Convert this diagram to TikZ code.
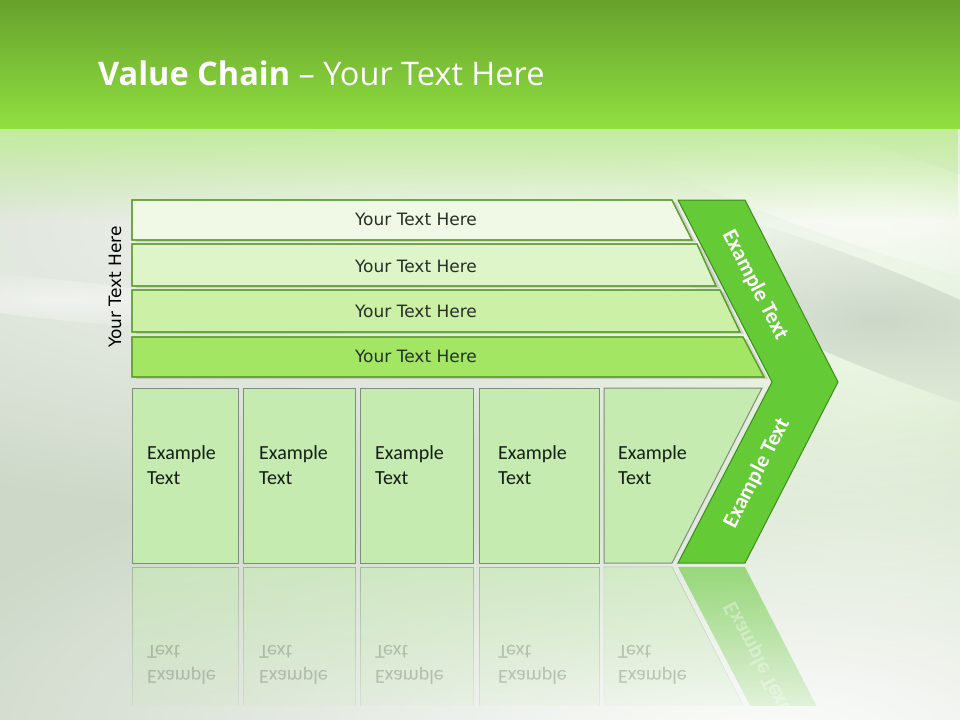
\documentclass[tikz,border=0pt]{standalone}
\usepackage{fontspec}
\setmainfont{Carlito}
\newfontfamily\titlefont{Open Sans}
\newfontfamily\barfont{DejaVu Sans}
\usetikzlibrary{fadings,shadows}
\definecolor{topA}{HTML}{67A12C}
\definecolor{topB}{HTML}{7DC236}
\definecolor{topC}{HTML}{8FE040}
\definecolor{pale}{HTML}{C2EC9C}
\definecolor{bgbase}{HTML}{CDD8C8}
\definecolor{bglight}{HTML}{E4F6D6}
\definecolor{bgstreak}{HTML}{B8C2B6}
\definecolor{barline}{HTML}{5E9E2E}
\definecolor{barA}{HTML}{EFF9E6}
\definecolor{barB}{HTML}{DDF5C9}
\definecolor{barC}{HTML}{CCF0A5}
\definecolor{barD}{HTML}{A3E664}
\definecolor{cellfill}{HTML}{C5EBB1}
\definecolor{cellline}{HTML}{7F8C7E}
\definecolor{chevfill}{HTML}{64CA36}
\definecolor{chevline}{HTML}{3F8C1E}
\definecolor{barink}{HTML}{263026}
\definecolor{cellink}{HTML}{141E14}
\tikzfading[name=glow, inner color=transparent!0, outer color=transparent!100]
\tikzset{
  bar/.style={draw=barline, line width=1.2pt,
    drop shadow={opacity=0.25, shadow xshift=4pt, shadow yshift=-2pt}},
  bartext/.style={font=\barfont\fontsize{17}{20}\selectfont, text=barink, inner sep=0pt},
  cell/.style={draw=cellline, fill=cellfill, line width=1pt},
  celltext/.style={font=\fontsize{20}{25.5}\selectfont, align=left, text=cellink,
    anchor=north west, inner sep=0pt},
  chev/.style={draw=chevline, fill=chevfill, line width=1pt},
  chevtext/.style={font=\bfseries\fontsize{22}{26}\selectfont, text=white, inner sep=0pt},
  mirror/.style={fill=cellfill, draw=cellline, fill opacity=0.55, draw opacity=0.5, path fading=south},
  mirrortext/.style={celltext, opacity=0.22, yscale=-1}
}
\begin{document}
\begin{tikzpicture}[x=1pt,y=-1pt]
\useasboundingbox (0,0) rectangle (960,720);
\fill[bgbase] (0,0) rectangle (960,720);
\fill[bglight, opacity=0.9, path fading=glow] (880,330) ellipse [x radius=420, y radius=420];
\fill[white, opacity=0.8, path fading=glow] (480,230) ellipse [x radius=1000, y radius=300];
\fill[bgstreak, opacity=0.6, path fading=glow, rotate around={-22:(880,320)}] (880,320) ellipse [x radius=300, y radius=50];
\fill[white, opacity=0.7, path fading=glow, rotate around={-18:(880,200)}] (880,200) ellipse [x radius=320, y radius=50];
\fill[white, opacity=0.5, path fading=glow, rotate around={-6:(60,300)}] (60,300) ellipse [x radius=240, y radius=20];
\fill[white, opacity=0.95, path fading=glow] (760,740) ellipse [x radius=900, y radius=320];
\fill[pale, path fading=south] (0,126) rectangle (960,220);
\shade[top color=topA, middle color=topB, bottom color=topC] (0,0) rectangle (960,128);
\node[anchor=base west, inner sep=0pt, text=white, font=\titlefont\fontsize{32.5}{39}\selectfont]
  (title) at (98,85) {\textbf{Value Chain} – Your Text Here};

\node[bartext, text=black, rotate=90] (side) at (115,287) {Your Text Here};

\fill[bar, fill=barA] (132,200) -- (672,200) -- (692,240) -- (132,240) -- cycle;
\fill[bar, fill=barB] (132,244) -- (697,244) -- (716,286) -- (132,286) -- cycle;
\fill[bar, fill=barC] (132,290) -- (720,290) -- (740,332) -- (132,332) -- cycle;
\fill[bar, fill=barD] (132,337) -- (743,337) -- (764,377) -- (132,377) -- cycle;
\draw[barline, line width=1.2pt] (132,200) -- (672,200) -- (692,240) -- (132,240) -- cycle;
\draw[barline, line width=1.2pt] (132,244) -- (697,244) -- (716,286) -- (132,286) -- cycle;
\draw[barline, line width=1.2pt] (132,290) -- (720,290) -- (740,332) -- (132,332) -- cycle;
\draw[barline, line width=1.2pt] (132,337) -- (743,337) -- (764,377) -- (132,377) -- cycle;
\node[bartext] (row1) at (416,219) {Your Text Here};
\node[bartext] (row2) at (416,266) {Your Text Here};
\node[bartext] (row3) at (416,311) {Your Text Here};
\node[bartext] (row4) at (416,356) {Your Text Here};

\draw[cell] (132,388) rectangle (238,563);
\draw[cell] (243,388) rectangle (355,563);
\draw[cell] (360,388) rectangle (473,563);
\draw[cell] (479,388) rectangle (599,563);
\draw[cell] (604,388) -- (762,388) -- (672,563) -- (604,563) -- cycle;
\node[celltext] (act1) at (147,445) {Example\\Text};
\node[celltext] (act2) at (259,445) {Example\\Text};
\node[celltext] (act3) at (375,445) {Example\\Text};
\node[celltext] (act4) at (498,445) {Example\\Text};
\node[celltext] (act5) at (618,445) {Example\\Text};

\draw[chev] (678,200) -- (745,200) -- (838,382) -- (745,563) -- (678,563) -- (772,382) -- cycle;
\node[chevtext, rotate=-62.7] (margin1) at (755,285) {Example Text};
\node[chevtext, rotate=62.7] (margin2) at (757,473) {Example Text};

\begin{scope}
\clip (0,565) rectangle (960,705);
\draw[mirror] (132,567) rectangle (238,742);
\draw[mirror] (243,567) rectangle (355,742);
\draw[mirror] (360,567) rectangle (473,742);
\draw[mirror] (479,567) rectangle (599,742);
\draw[mirror] (604,567) -- (672,567) -- (762,742) -- (604,742) -- cycle;
\fill[chevfill, fill opacity=0.6, path fading=south] (678,567) -- (745,567) -- (838,748) -- (772,748) -- cycle;
\node[mirrortext] (ref1) at (147,685) {Example\\Text};
\node[mirrortext] (ref2) at (259,685) {Example\\Text};
\node[mirrortext] (ref3) at (375,685) {Example\\Text};
\node[mirrortext] (ref4) at (498,685) {Example\\Text};
\node[mirrortext] (ref5) at (618,685) {Example\\Text};
\node[chevtext, opacity=0.35, yscale=-1, rotate=62.7] (ref6) at (757,657) {Example Text};
\end{scope}
\end{tikzpicture}
\end{document}
